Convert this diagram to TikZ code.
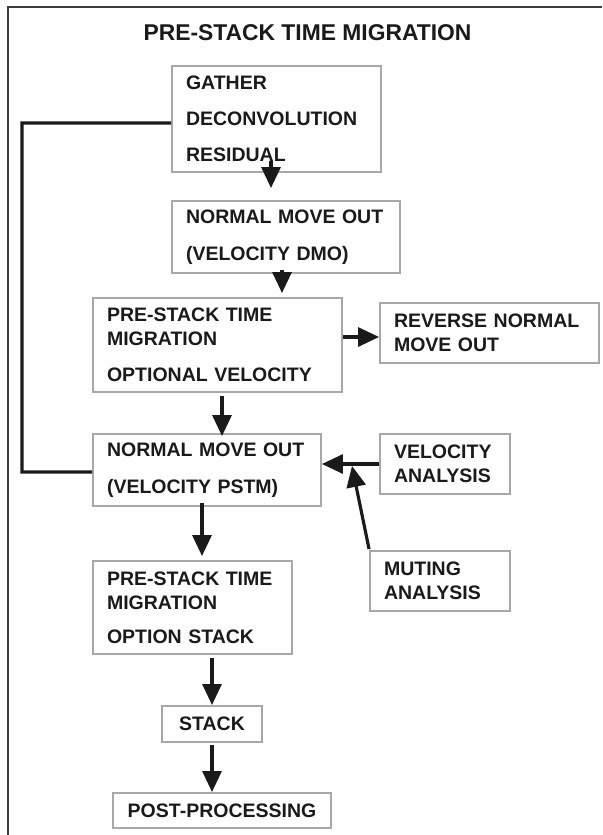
\documentclass[tikz,border=0pt]{standalone}
\usepackage{fontspec}
\setmainfont{Liberation Sans}
\usetikzlibrary{arrows.meta,positioning}
\definecolor{boxgray}{HTML}{A8A8A8}
\definecolor{ink}{HTML}{1A1A1A}

\begin{document}
\begin{tikzpicture}[x=0.02cm,y=-0.02cm,
  every node/.style={font=\fontsize{11.1}{13.66}\selectfont\bfseries,text=ink},
  box/.style 2 args={draw=boxgray,line width=1.1pt,inner xsep=0.28cm,inner ysep=0pt,
    align=left,text width=#1,minimum height=#2},
  cbox/.style 2 args={draw=boxgray,line width=1.1pt,inner sep=0pt,
    align=center,minimum width=#1,minimum height=#2},
  arr/.style={draw=ink,line width=1.8pt,-{Triangle[length=0.42cm,width=0.38cm]}},
  link/.style={draw=ink,line width=1.8pt}]

  \useasboundingbox (0,0) rectangle (602,835);

  % Frame
  \draw[draw=ink!85,line width=1.4pt] (8,835) -- (8,7) -- (602,7);

  % Title
  \node[font=\fontsize{13}{15}\selectfont\bfseries] (title) at (307.5,33) {PRE-STACK TIME MIGRATION};

  % Main column
  \node[box={3.62cm}{2.12cm}] (gather) at (276.5,119)
    {GATHER\\[6.8pt] DECONVOLUTION\\[6.8pt] RESIDUAL};
  \node[box={4.0cm}{1.44cm}] (nmo1) at (286,237)
    {NORMAL MOVE OUT\\[7.4pt] (VELOCITY DMO)};
  \node[box={4.42cm}{1.88cm}] (pstm1) at (217.5,345)
    {PRE-STACK TIME\\ MIGRATION\\[6.8pt] OPTIONAL VELOCITY};
  \node[box={4.0cm}{1.44cm}] (nmo2) at (207,470)
    {NORMAL MOVE OUT\\[7.4pt] (VELOCITY PSTM)};
  \node[box={3.42cm}{1.86cm}] (pstm2) at (192.5,607.5)
    {PRE-STACK TIME\\ MIGRATION\\[5.7pt] OPTION STACK};
  \node[cbox={2.0cm}{0.72cm}] (stack) at (212,724) {STACK};
  \node[cbox={4.36cm}{0.70cm}] (post) at (222,810.5) {POST-PROCESSING};

  % Side boxes
  \node[box={3.82cm}{1.2cm}] (rnmo) at (489.5,333) {REVERSE NORMAL\\ MOVE OUT};
  \node[box={2.04cm}{1.2cm}] (velan) at (445,464) {VELOCITY\\ ANALYSIS};
  \node[box={2.24cm}{1.2cm}] (muting) at (440,581) {MUTING\\ ANALYSIS};

  % Helper points
  \coordinate (back) at (22,472);
  \coordinate (join) at (352,466);

  % Connectors
  \draw[arr] ([shift={(-5.5,-12)}]gather.south) -- ([shift={(-5.5,-12)}]gather.south |- nmo1.north);
  \draw[arr] ([shift={(-4,-4)}]nmo1.south) -- ([shift={(-4,-4)}]nmo1.south |- pstm1.north);
  \draw[arr] ([shift={(0,-8)}]pstm1.east) -- ([shift={(0,-8)}]pstm1.east -| rnmo.west);
  \draw[arr] ([shift={(4.5,3)}]pstm1.south) -- ([shift={(4.5,3)}]pstm1.south |- nmo2.north);
  \draw[arr] (velan.west) -- (velan.west -| nmo2.east);
  \draw[arr] ([shift={(0,-1)}]muting.north west) -- (join);
  \draw[arr] ([shift={(-5,-4)}]nmo2.south) -- ([shift={(-5,-4)}]nmo2.south |- pstm2.north);
  \draw[arr] ([yshift=-0.06cm]stack.north |- pstm2.south) -- (stack.north);
  \draw[arr] ([yshift=-0.04cm]stack.south) -- (stack.south |- post.north);

  % Feedback loop
  \draw[link] ([yshift=-0.08cm]gather.west) -| (back) -- ([yshift=-0.04cm]nmo2.west);
\end{tikzpicture}
\end{document}
